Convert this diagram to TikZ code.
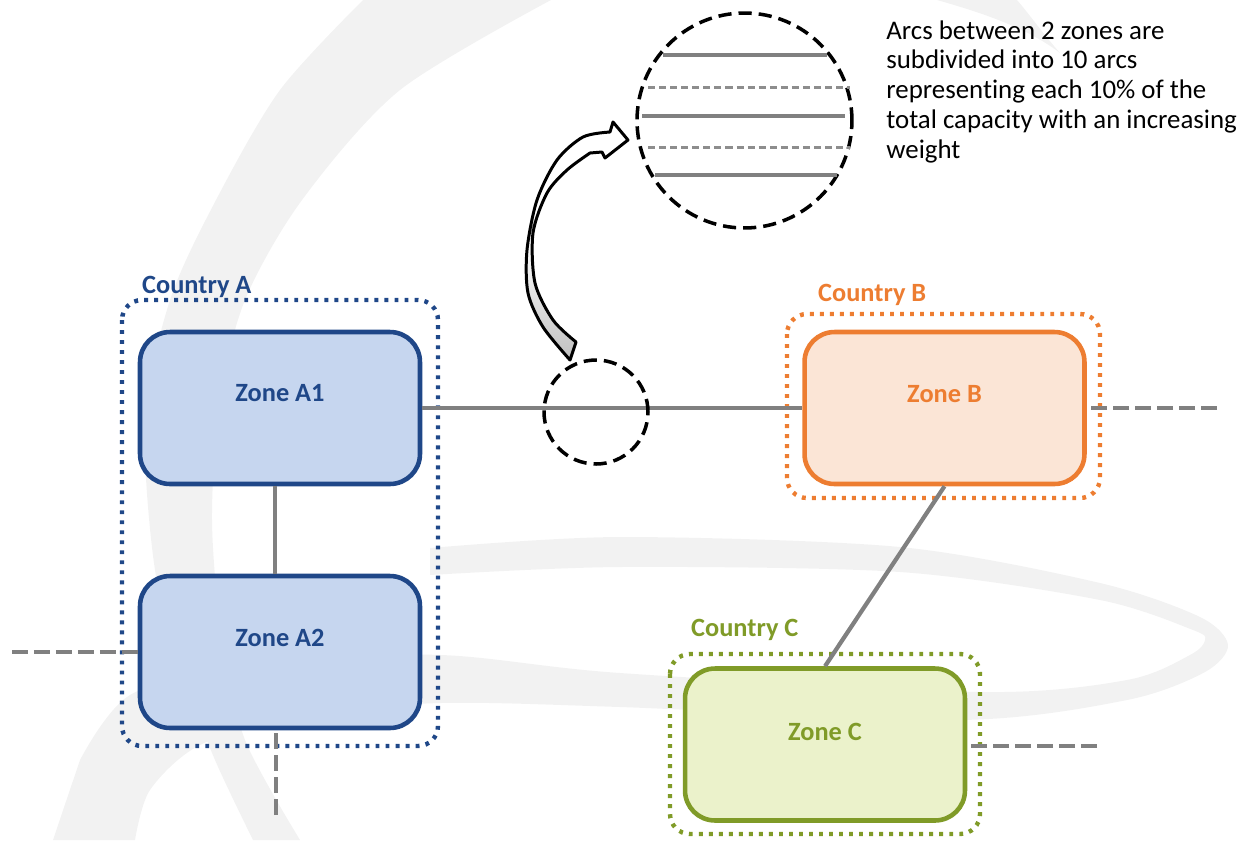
\documentclass[tikz,border=0pt]{standalone}
\usepackage{fontspec}
\setmainfont{Carlito}[Ligatures=NoCommon]
\usepackage{tikz}

\definecolor{blueA}{RGB}{31,71,136}
\definecolor{fillA}{RGB}{198,214,239}
\definecolor{orangeB}{RGB}{237,125,49}
\definecolor{fillB}{RGB}{251,229,214}
\definecolor{greenC}{RGB}{128,155,40}
\definecolor{fillC}{RGB}{235,242,203}
\definecolor{link}{RGB}{128,128,128}
\definecolor{wmark}{RGB}{242,242,242}

\begin{document}
\begin{tikzpicture}[x=0.02cm, y=-0.02cm,
  zone/.style={draw, line width=2.6pt, rounded corners=0.6cm, minimum width=5.6cm, minimum height=3.04cm, inner sep=0pt},
  country/.style={line width=2.5pt, dash pattern=on 2.2pt off 3.5pt, rounded corners=0.4cm},
  ztext/.style={font=\fontsize{15}{18}\selectfont\bfseries},
  arc/.style={link, line width=2.4pt},
  fine/.style={link!90, line width=1.7pt, dash pattern=on 4pt off 2.3pt},
  stub/.style={link, line width=2.5pt, dash pattern=on 9pt off 3.5pt},
  lens/.style={circle, draw, line width=2pt, dash pattern=on 7.5pt off 4pt, inner sep=0pt},
  zoomarrow/.style={draw, line width=1.7pt, line join=round}
]
\useasboundingbox (0,0) rectangle (1248,840);

\fill[wmark] plot[smooth] coordinates {(363,0) (280,90) (216,200) (170,300) (145,420) (155,570) (185,680) (215,760) (253,840)}
  -- plot[smooth] coordinates {(300,840) (245,740) (222,640) (212,520) (220,400) (245,300) (302,200) (400,90) (551,0)} -- cycle;
\fill[wmark] plot[smooth] coordinates {(430,548) (620,537) (900,547) (1100,583) (1200,617) (1228,645) (1205,672) (1127,700) (960,720) (620,707) (441,703) (300,715) (200,745) (150,790) (135,840)}
  -- (53,840) -- plot[smooth] coordinates {(80,760) (130,695) (250,660) (441,655) (620,673) (980,692) (1127,680) (1190,655) (1205,640) (1193,630) (1100,600) (900,572) (620,567) (430,575)} -- cycle;
\fill[wmark] (937,0) .. controls (990,15) and (1030,30) .. (1060,53) .. controls (1040,30) and (1030,15) .. (1017,0) -- cycle;

\draw[country, blueA] (122,300) rectangle (438,746);
\draw[country, orangeB] (787,314) rectangle (1100,498);
\draw[country, greenC] (670,654) rectangle (980,834);
\node[ztext, blueA, anchor=west] (cA) at (136,287) {Country A};
\node[ztext, orangeB, anchor=west] (cB) at (812,295) {Country B};
\node[ztext, greenC, anchor=west] (cC) at (685,630) {Country C};

\node[zone, blueA, fill=fillA, label={[ztext, blueA, yshift=0.3cm]center:Zone A1}] (A1) at (280,408) {};
\node[zone, blueA, fill=fillA, label={[ztext, blueA, yshift=0.28cm]center:Zone A2}] (A2) at (280,652) {};
\node[zone, orangeB, fill=fillB, label={[ztext, orangeB, yshift=0.28cm]center:Zone B}] (B) at (944.5,408) {};
\node[zone, greenC, fill=fillC, label={[ztext, greenC, yshift=0.25cm]center:Zone C}] (C) at (825,744.5) {};

\draw[arc] ([xshift=-0.1cm]A1.south) -- ([xshift=-0.1cm]A2.north);
\draw[arc] (A1.east) -- (B.west);
\draw[arc] (B.south) -- (C.north);

\coordinate (endA2w) at (12,652);
\coordinate (endA2s) at (276,815);
\coordinate (endBe) at (1217,408);
\coordinate (endCe) at (1097,746);
\draw[stub] (endA2w) -- (A2.west);
\draw[stub] (endA2s) -- (endA2s |- A2.south);
\draw[stub] (endBe) -- (B.east);
\draw[stub] (endCe) -- (endCe -| C.east);

\node[lens, minimum size=2.08cm] (lensS) at (596,412) {};
\node[lens, minimum size=4.3cm] (lensL) at (744.5,120.5) {};
\foreach \y/\a/\b in {55/663/827, 116/642/845, 175/655/837}
  \draw[arc] (\a,\y) -- (\b,\y);
\foreach \y in {87,147}
  \draw[fine] (648,\y) -- (850,\y);

\path[zoomarrow, top color=white, bottom color=black!25, middle color=white]
  plot[smooth] coordinates {(570,360) (543,327) (528,293) (527,250) (537,200) (557,160) (583,137) (610,132)}
  -- (613,122) -- (628,140) -- (605,158) -- (602,152)
  -- plot[smooth] coordinates {(590,153) (567,170) (547,193) (533,233) (535,283) (553,320) (576,342)}
  -- cycle;

\node[anchor=north west, inner sep=0pt, align=left, font=\fontsize{15.3}{17}\selectfont] (note) at (886,20)
  {Arcs between 2 zones are\\subdivided into 10 arcs\\representing each 10\% of the\\total capacity with an increasing\\weight};
\end{tikzpicture}
\end{document}
